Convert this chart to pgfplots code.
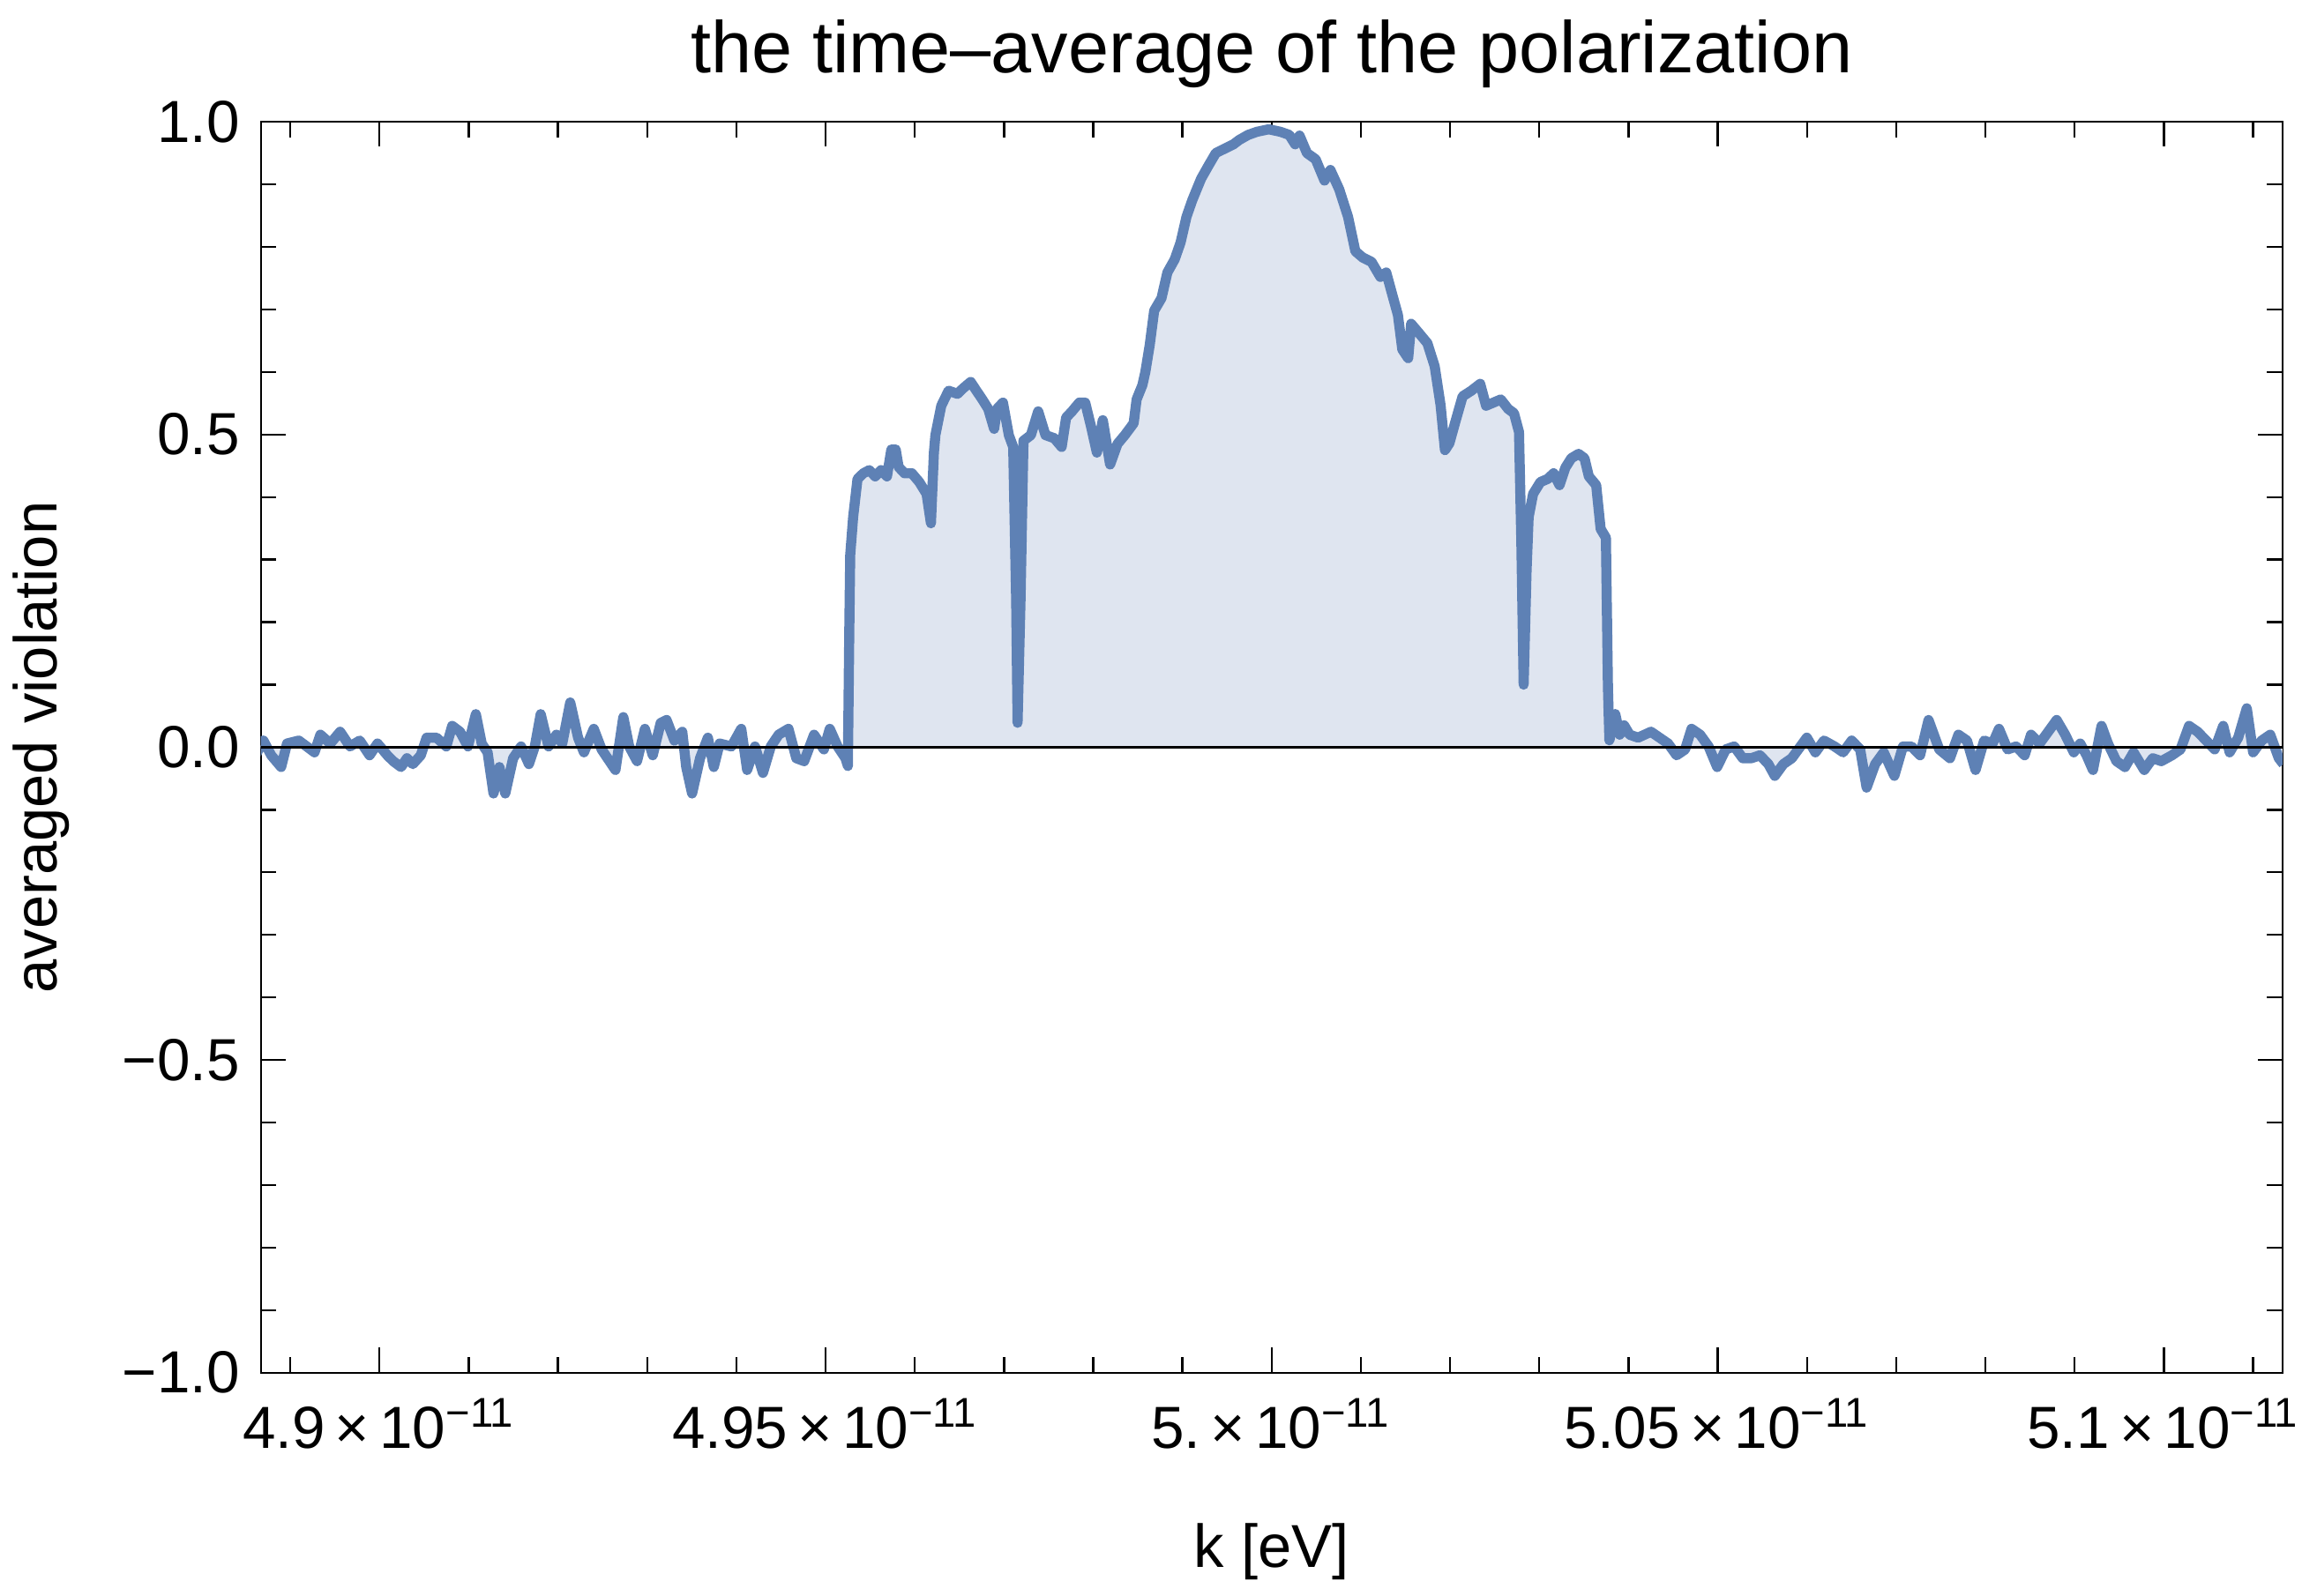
\documentclass[border=0pt]{standalone}
\usepackage{fontspec}
\setmainfont{Liberation Sans}
\usepackage{pgfplots}
\usepackage{pgfplotstable}
\pgfplotsset{compat=1.18}
\definecolor{mblue}{RGB}{94,129,181}
\definecolor{mfill}{RGB}{223,229,240}
\pgfplotstableread{
x y
4.88611 -0.013
4.88699 0.0106
4.88787 -0.013
4.88898 -0.0317
4.88964 0.0059
4.89096 0.0106
4.89184 0.0012
4.89272 -0.0082
4.89338 0.0200
4.89449 0.0059
4.89559 0.0247
4.89669 0.0012
4.89779 0.0106
4.89889 -0.0129
4.89978 0.0059
4.90088 -0.0129
4.90154 -0.0223
4.90242 -0.0317
4.90308 -0.0176
4.90374 -0.0270
4.90463 -0.0129
4.90529 0.0153
4.90639 0.0153
4.90749 0.0012
4.90815 0.0341
4.90903 0.0247
4.90992 0.0012
4.91080 0.0529
4.91146 0.0059
4.91212 -0.0082
4.91278 -0.0740
4.91344 -0.0317
4.91410 -0.0740
4.91498 -0.0176
4.91587 0.0012
4.91675 -0.0270
4.91741 0.0012
4.91807 0.0529
4.91895 0.0012
4.91983 0.0200
4.92049 0.0059
4.92138 0.0716
4.92226 0.0153
4.92292 -0.0082
4.92402 0.0294
4.92490 -0.0035
4.92578 -0.0223
4.92645 -0.0364
4.92733 0.0482
4.92799 0.0012
4.92887 -0.0223
4.92975 0.0294
4.93063 -0.0129
4.93152 0.0388
4.93218 0.0435
4.93306 0.0106
4.93394 0.0247
4.93438 -0.0317
4.93504 -0.0740
4.93593 -0.0176
4.93681 0.0153
4.93747 -0.0317
4.93813 0.0059
4.93945 0.0012
4.94055 0.0294
4.94121 -0.0364
4.94209 0.0012
4.94298 -0.0411
4.94386 0.0012
4.94474 0.0200
4.94584 0.0294
4.94672 -0.0176
4.94760 -0.0223
4.94871 0.0200
4.94981 -0.0035
4.95047 0.0294
4.95135 0.0012
4.95223 -0.0176
4.95250 -0.030
4.95266 0.189
4.95276 0.307
4.95309 0.368
4.95358 0.429
4.95424 0.438
4.95490 0.443
4.95556 0.433
4.95622 0.443
4.95688 0.433
4.95737 0.476
4.95786 0.476
4.95819 0.448
4.95885 0.438
4.95967 0.438
4.96050 0.424
4.96132 0.405
4.96181 0.358
4.96214 0.471
4.96231 0.499
4.96297 0.546
4.96379 0.570
4.96478 0.565
4.96543 0.574
4.96626 0.584
4.96691 0.570
4.96757 0.556
4.96823 0.541
4.96889 0.509
4.96922 0.541
4.96988 0.551
4.97054 0.499
4.97103 0.480
4.97136 0.236
4.97152 0.039
4.97185 0.236
4.97218 0.490
4.97301 0.499
4.97383 0.537
4.97465 0.499
4.97564 0.494
4.97646 0.480
4.97696 0.527
4.97762 0.537
4.97844 0.551
4.97910 0.551
4.97975 0.513
4.98041 0.471
4.98107 0.523
4.98189 0.452
4.98272 0.485
4.98354 0.499
4.98453 0.518
4.98486 0.556
4.98551 0.579
4.98584 0.600
4.98633 0.643
4.98683 0.698
4.98765 0.718
4.98831 0.759
4.98913 0.780
4.98979 0.807
4.99045 0.848
4.99111 0.875
4.99209 0.909
4.99292 0.930
4.99374 0.950
4.99473 0.957
4.99572 0.964
4.99637 0.971
4.99736 0.979
4.99835 0.984
4.99967 0.988
5.00098 0.984
5.00197 0.979
5.00263 0.964
5.00312 0.978
5.00395 0.950
5.00493 0.940
5.00592 0.906
5.00658 0.923
5.00757 0.892
5.00856 0.848
5.00938 0.793
5.01020 0.783
5.01119 0.776
5.01218 0.752
5.01284 0.759
5.01349 0.725
5.01415 0.691
5.01464 0.636
5.01530 0.622
5.01563 0.677
5.01646 0.663
5.01745 0.646
5.01827 0.609
5.01893 0.547
5.01942 0.475
5.01992 0.486
5.02058 0.520
5.02140 0.561
5.02238 0.570
5.02337 0.581
5.02403 0.546
5.02485 0.551
5.02568 0.556
5.02650 0.541
5.02716 0.534
5.02772 0.504
5.02798 0.330
5.02824 0.100
5.02857 0.283
5.02880 0.368
5.02930 0.405
5.03012 0.424
5.03094 0.429
5.03160 0.438
5.03226 0.419
5.03292 0.447
5.03358 0.462
5.03440 0.469
5.03506 0.462
5.03555 0.433
5.03637 0.419
5.03687 0.349
5.03746 0.335
5.03769 0.095
5.03785 0.011
5.03851 0.053
5.03901 0.020
5.03950 0.035
5.04012 0.0200
5.04107 0.0153
5.04251 0.0247
5.04347 0.0153
5.04443 0.0059
5.04538 -0.0129
5.04634 -0.0035
5.04706 0.0294
5.04802 0.0200
5.04897 0.0012
5.04993 -0.0317
5.05089 -0.0035
5.05184 0.0012
5.05280 -0.0176
5.05376 -0.0176
5.05472 -0.0129
5.05567 -0.0270
5.05639 -0.0458
5.05735 -0.0270
5.05830 -0.0176
5.05902 -0.0035
5.05998 0.0153
5.06094 -0.0082
5.06190 0.0106
5.06309 0.0012
5.06405 -0.0082
5.06501 0.0106
5.06596 -0.0035
5.06668 -0.0646
5.06764 -0.0270
5.06860 -0.0082
5.06979 -0.0458
5.07075 0.0012
5.07171 0.0012
5.07267 -0.0129
5.07362 0.0435
5.07482 -0.0035
5.07602 -0.0176
5.07697 0.0200
5.07793 0.0106
5.07889 -0.0364
5.07985 0.0106
5.08080 0.0059
5.08152 0.0294
5.08248 -0.0035
5.08344 0.0012
5.08439 -0.0129
5.08511 0.0200
5.08607 0.0059
5.08703 0.0247
5.08798 0.0435
5.08894 0.0200
5.08990 -0.0082
5.09062 0.0059
5.09133 -0.0129
5.09205 -0.0364
5.09301 0.0341
5.09373 0.0059
5.09468 -0.0223
5.09564 -0.0317
5.09660 -0.0082
5.09780 -0.0364
5.09875 -0.0176
5.09971 -0.0223
5.10091 -0.0129
5.10186 -0.0035
5.10282 0.0341
5.10378 0.0247
5.10474 0.0106
5.10569 -0.0035
5.10665 0.0341
5.10737 -0.0082
5.10833 0.0153
5.10929 0.0623
5.11000 -0.0082
5.11096 0.0106
5.11192 0.0200
5.11288 -0.0176
5.11340 -0.0270
}\curve
\begin{document}
\begin{tikzpicture}
\begin{axis}[
  scale only axis, width=340.3pt, height=210.6pt,
  xmin=4.8867, xmax=5.1133, ymin=-1, ymax=1,
  xtick={4.9,4.95,5,5.05,5.1},
  xticklabels={4.9\,×\,10\textsuperscript{−11},4.95\,×\,10\textsuperscript{−11},5.\,×\,10\textsuperscript{−11},5.05\,×\,10\textsuperscript{−11},5.1\,×\,10\textsuperscript{−11}},
  minor xtick={4.89,4.91,4.92,4.93,4.94,4.96,4.97,4.98,4.99,5.01,5.02,5.03,5.04,5.06,5.07,5.08,5.09,5.11},
  ytick={-1,-0.5,0,0.5,1},
  yticklabels={−1.0,−0.5,0.0,0.5,1.0},
  minor ytick={-0.9,-0.8,-0.7,-0.6,-0.4,-0.3,-0.2,-0.1,0.1,0.2,0.3,0.4,0.6,0.7,0.8,0.9},
  tick align=inside,
  major tick length=4.2pt, minor tick length=2.6pt,
  every tick/.style={black, line width=0.35pt},
  axis line style={black, line width=0.35pt},
  tick label style={font=\fontsize{10}{12}\selectfont},
  xticklabel style={anchor=base, yshift=-12.8pt},
  label style={font=\fontsize{10.2}{12}\selectfont},
  every axis title shift=0pt,
  title={the time–average of the polarization},
  title style={at={(axis description cs:0.5,1.0389)}, anchor=base, font=\fontsize{12.3}{14}\selectfont},
  xlabel={k [eV]},
  xlabel style={at={(axis description cs:0.5,-0.1553)}, anchor=base},
  ylabel={averaged violation},
  ylabel style={at={(axis description cs:-0.1087,0.5)}, anchor=center},
]
\addplot[draw=none, fill=mfill] table {\curve} \closedcycle;
\addplot[mblue, line width=1.7pt, line join=round] table {\curve};
\addplot[black, line width=0.4pt] coordinates {(4.8867,0) (5.1133,0)};
\end{axis}
\pgfresetboundingbox
\useasboundingbox (current axis.south west) ++(-43.9pt,-37.5pt) rectangle ++(390pt,268.6pt);
\end{tikzpicture}
\end{document}
